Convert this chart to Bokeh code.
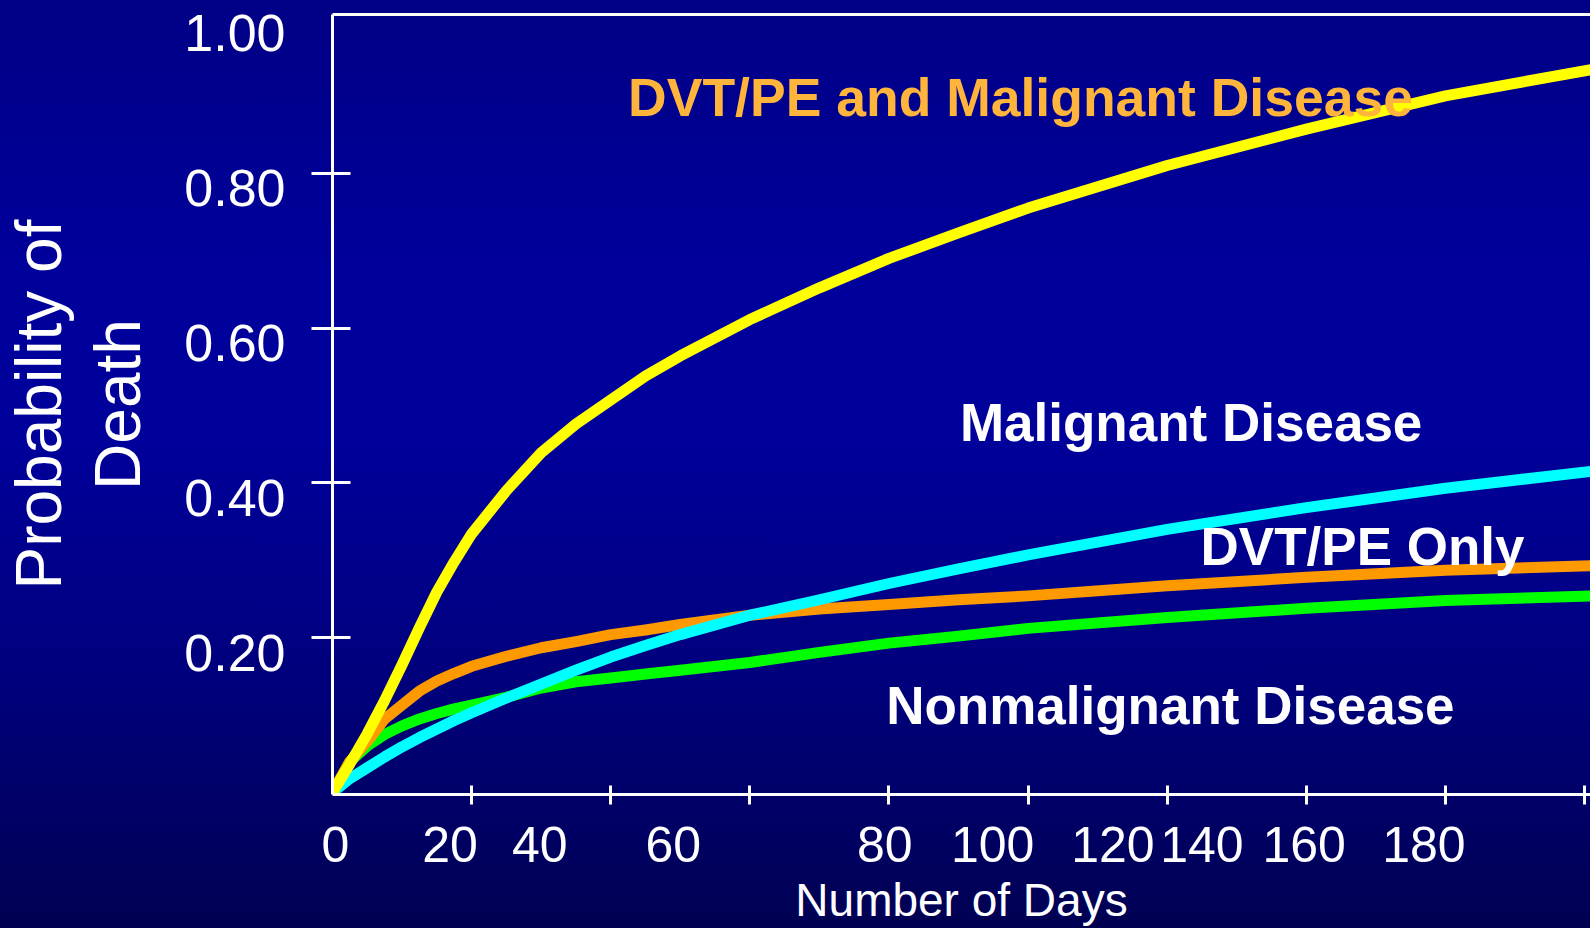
from bokeh.plotting import figure
from bokeh.models import (Range1d, FixedTicker, LinearAxis, Label,
                          PrintfTickFormatter, GlobalInlineStyleSheet)
from bokeh.embed import file_html
from bokeh.resources import INLINE

# ---------------- data ----------------
days = [0, 2.5, 5, 7.5, 10, 12.5, 15, 17.5, 20, 25, 30, 35, 40, 45, 50,
        60, 70, 80, 90, 100, 120, 140, 160, 181]
dvt_pe_and_malignant = [0, 0.037, 0.076, 0.119, 0.165, 0.213, 0.259, 0.298, 0.334,
                        0.390, 0.439, 0.476, 0.507, 0.538, 0.564,
                        0.611, 0.652, 0.690, 0.723, 0.755, 0.810, 0.857, 0.900, 0.934]
malignant_disease = [0, 0.018, 0.032, 0.046, 0.059, 0.071, 0.082, 0.093, 0.103,
                     0.122, 0.140, 0.158, 0.175, 0.190, 0.204,
                     0.229, 0.249, 0.270, 0.289, 0.307, 0.340, 0.368, 0.393, 0.415]
dvt_pe_only = [0, 0.040, 0.066, 0.095, 0.113, 0.131, 0.144, 0.154, 0.163,
               0.176, 0.187, 0.195, 0.204, 0.210, 0.217,
               0.229, 0.237, 0.243, 0.249, 0.254, 0.267, 0.278, 0.287, 0.293]
nonmalignant_disease = [0, 0.040, 0.060, 0.075, 0.086, 0.095, 0.102, 0.108, 0.113,
                        0.123, 0.135, 0.143, 0.148, 0.153, 0.158,
                        0.168, 0.181, 0.193, 0.202, 0.212, 0.226, 0.238, 0.248, 0.254]

x_ticks = [20, 40, 60, 80, 100, 120, 140, 160, 180]
x_tick_labels = ["0", "20", "40", "60", "80", "100", "120", "140", "160", "180"]
x_tick_label_days = [0.4, 16.9, 29.8, 49.0, 79.4, 94.9, 112.2, 125.0, 139.7, 156.9]
y_ticks = [0.2, 0.4, 0.6, 0.8]
y_tick_values = [0.0, 0.2, 0.4, 0.6, 0.8, 1.0]

series_names = ["DVT/PE and Malignant Disease", "Malignant Disease",
                "DVT/PE Only", "Nonmalignant Disease"]

FONT = "Liberation Sans"
WHITE = "#ffffff"
Y0, Y1 = -0.0026, 1.0051
LABEL_SHIFT = 0.0193   # tick labels sit ~15px below their ticks on the slide

p = figure(width=1590, height=928, output_backend="svg", toolbar_location=None,
           title=None,
           x_range=Range1d(0, 180.86), y_range=Range1d(Y0, Y1),
           x_axis_type=None, y_axis_type=None,
           min_border_left=330, min_border_right=0, min_border_top=14,
           min_border_bottom=130)
p.extra_y_ranges = {"lab": Range1d(Y0 + LABEL_SHIFT, Y1 + LABEL_SHIFT)}
p.background_fill_alpha = 0
p.border_fill_alpha = 0
p.outline_line_color = None
p.grid.visible = False
p.stylesheets = [GlobalInlineStyleSheet(css=(
    "body { background: linear-gradient(to bottom, #000086 0%, #00009a 28%, "
    "#00009a 48%, #00007a 75%, #000052 100%) fixed; }"))]


def bare(axis):
    axis.major_label_text_font_size = "0px"
    axis.major_label_text_color = None
    axis.major_label_standoff = 0
    axis.minor_tick_line_color = None


# ---------------- y axis: line + ticks, then labels ----------------
ytick_axis = LinearAxis(ticker=FixedTicker(ticks=y_ticks))
ytick_axis.axis_line_color = WHITE
ytick_axis.axis_line_width = 3
ytick_axis.major_tick_line_color = WHITE
ytick_axis.major_tick_line_width = 3
ytick_axis.major_tick_out = 21
ytick_axis.major_tick_in = 18
bare(ytick_axis)
p.add_layout(ytick_axis, "left")

ylab_axis = LinearAxis(y_range_name="lab", ticker=FixedTicker(ticks=y_tick_values),
                       formatter=PrintfTickFormatter(format="%.2f"))
ylab_axis.axis_line_color = None
ylab_axis.major_tick_line_color = None
ylab_axis.minor_tick_line_color = None
ylab_axis.major_tick_out = 0
ylab_axis.major_tick_in = 0
ylab_axis.major_label_standoff = 26
ylab_axis.major_label_text_font = FONT
ylab_axis.major_label_text_font_size = "52px"
ylab_axis.major_label_text_color = WHITE
ylab_axis.axis_label = "Probability of\nDeath"
ylab_axis.axis_label_text_font = FONT
ylab_axis.axis_label_text_font_style = "normal"
ylab_axis.axis_label_text_font_size = "64px"
ylab_axis.axis_label_text_line_height = 1.1
ylab_axis.axis_label_text_color = WHITE
ylab_axis.axis_label_standoff = 27
p.add_layout(ylab_axis, "left")

# ---------------- x axis: line + ticks, then labels ----------------
xtick_axis = LinearAxis(ticker=FixedTicker(ticks=x_ticks))
xtick_axis.axis_line_color = WHITE
xtick_axis.axis_line_width = 3
xtick_axis.major_tick_line_color = WHITE
xtick_axis.major_tick_line_width = 3
xtick_axis.major_tick_out = 10
xtick_axis.major_tick_in = 9
bare(xtick_axis)
p.add_layout(xtick_axis, "below")

xlab_axis = LinearAxis(ticker=FixedTicker(ticks=x_tick_label_days))
xlab_axis.major_label_overrides = dict(zip(x_tick_label_days, x_tick_labels))
xlab_axis.axis_line_color = None
xlab_axis.major_tick_line_color = None
xlab_axis.minor_tick_line_color = None
xlab_axis.major_tick_out = 0
xlab_axis.major_tick_in = 0
xlab_axis.major_label_standoff = 22
xlab_axis.major_label_text_font = FONT
xlab_axis.major_label_text_font_size = "50px"
xlab_axis.major_label_text_color = WHITE
xlab_axis.axis_label = "Number of Days"
xlab_axis.axis_label_text_font = FONT
xlab_axis.axis_label_text_font_style = "normal"
xlab_axis.axis_label_text_font_size = "46px"
xlab_axis.axis_label_text_color = WHITE
xlab_axis.axis_label_standoff = 9
p.add_layout(xlab_axis, "below")

# top border of the plot area
top = LinearAxis(ticker=FixedTicker(ticks=[]))
top.axis_line_color = WHITE
top.axis_line_width = 3
top.major_tick_out = 0
top.major_tick_in = 0
bare(top)
p.add_layout(top, "above")

# ---------------- curves ----------------
kw = dict(line_width=11, line_join="round")
p.line(days, nonmalignant_disease, line_color="#00ff00", **kw)
p.line(days, dvt_pe_only, line_color="#ff9900", **kw)
p.line(days, malignant_disease, line_color="#00ffff", **kw)
p.line(days, dvt_pe_and_malignant, line_color="#ffff00", **kw)

# ---------------- curve names ----------------
name_pos = [(42.5, 0.898), (90.2, 0.478), (124.8, 0.318), (79.6, 0.1125)]
name_col = ["#ffb43c", WHITE, WHITE, WHITE]
name_size = ["53.5px", "53px", "53px", "53px"]
for name, (lx, ly), col, sz in zip(series_names, name_pos, name_col, name_size):
    p.add_layout(Label(x=lx, y=ly, text=name, text_align="left",
                       text_baseline="alphabetic", text_font=FONT,
                       text_font_style="bold", text_font_size=sz, text_color=col))

open("out.html", "w").write(file_html(p, INLINE))
